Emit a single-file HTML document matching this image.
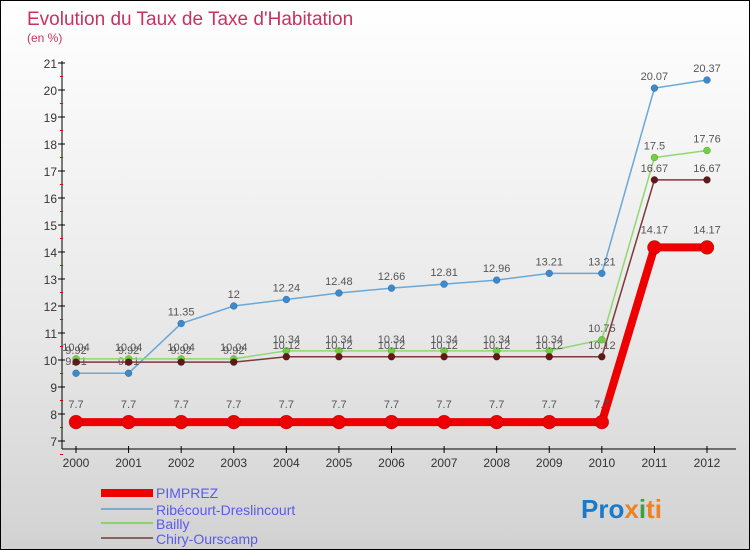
<!DOCTYPE html>
<html><head><meta charset="utf-8"><style>
body{margin:0;}
#c{width:750px;height:550px;position:relative;overflow:hidden;background:linear-gradient(#fff 0%,#e8e8e8 60%,#d2d2d2 100%);box-sizing:border-box;border:1px solid #000;font-family:"Liberation Sans",sans-serif;}
</style></head><body>
<div id="c">
<svg id="s" width="750" height="550" style="position:absolute;left:0;top:0">
<text x="26" y="24" font-size="19" fill="#c8325f">Evolution du Taux de Taxe d'Habitation</text>
<text x="26" y="41" font-size="12" fill="#c8325f">(en %)</text>
<line x1="61" y1="60" x2="61" y2="448" stroke="#000"/>
<line x1="61" y1="448" x2="735" y2="448" stroke="#000"/>
<g id="ax"></g><g id="series"></g>
<g>
<rect x="100" y="488" width="52" height="8" fill="#e00"/>
<text x="155" y="497" font-size="14" fill="#5a5af0">PIMPREZ</text>
<line x1="100" y1="508" x2="152" y2="508" stroke="#7aaad0" stroke-width="2"/>
<text x="155" y="514" font-size="14" fill="#5a5af0">Ribécourt-Dreslincourt</text>
<line x1="100" y1="522" x2="152" y2="522" stroke="#90d070" stroke-width="2"/>
<text x="155" y="528" font-size="14" fill="#5a5af0">Bailly</text>
<line x1="100" y1="537" x2="152" y2="537" stroke="#8a6060" stroke-width="2"/>
<text x="155" y="543" font-size="14" fill="#5a5af0">Chiry-Ourscamp</text>
</g>
<text x="580" y="517" font-size="26" font-weight="bold" fill="#1a7ac8">Pro<tspan fill="#f08020">x</tspan><tspan fill="#3aa040">i</tspan><tspan fill="#f08020">ti</tspan></text>
</svg>
</div>
<script>
const years=[2000,2001,2002,2003,2004,2005,2006,2007,2008,2009,2010,2011,2012];
const pimprez=[7.7,7.7,7.7,7.7,7.7,7.7,7.7,7.7,7.7,7.7,7.7,14.17,14.17];
const ribecourt=[9.51,9.51,11.35,12,12.24,12.48,12.66,12.81,12.96,13.21,13.21,20.07,20.37];
const bailly=[10.04,10.04,10.04,10.04,10.34,10.34,10.34,10.34,10.34,10.34,10.75,17.5,17.76];
const chiry=[9.92,9.92,9.92,9.92,10.12,10.12,10.12,10.12,10.12,10.12,10.12,16.67,16.67];
const yTicks=[7,8,9,10,11,12,13,14,15,16,17,18,19,20,21];
const NS='http://www.w3.org/2000/svg';
const X=i=>75+i*(706-75)/(years.length-1);
const Y=v=>440-(v-7)*27;
function mk(t,a,p){const e=document.createElementNS(NS,t);for(const k in a)e.setAttribute(k,a[k]);p.appendChild(e);return e;}
const ax=document.getElementById('ax');
yTicks.forEach(v=>{
 const l=mk('line',{x1:57,x2:64,y1:Y(v),y2:Y(v),stroke:'#000'},ax);
 
 
 const m=mk('line',{x1:59,x2:62,y1:Y(v)+13.5,y2:Y(v)+13.5,stroke:'#e00'},ax);
 
 
 const t=mk('text',{x:56,y:Y(v)+5,'font-size':12,'text-anchor':'end',fill:'#333'},ax);
 t.textContent=v;
 
 
});
years.forEach((y,i)=>{
 const l=mk('line',{x1:X(i),x2:X(i),y1:445,y2:452,stroke:'#000'},ax);
 
 
 const t=mk('text',{x:X(i),y:466,'font-size':12,'text-anchor':'middle',fill:'#333'},ax);
 t.textContent=y;
 
 
});
const sg=document.getElementById('series');
function series(name,data,color,w,r,dot,dy){
 const g=mk('g',{},sg);
 
 
 const pl=mk('polyline',{points:data.map((v,i)=>X(i)+','+Y(v)).join(' '),fill:'none',stroke:color,'stroke-width':w},g);
 
 
 data.forEach((v,i)=>{
  const c=mk('circle',{cx:X(i),cy:Y(v),r:r,fill:dot,stroke:'rgba(0,0,0,0.3)','stroke-width':0.5},g);
  
  
  const t=mk('text',{x:X(i),y:Y(v)-dy,'font-size':11,'text-anchor':'middle',fill:'#555'},g);
  t.textContent=v;
  
  
 });
}
series('ribecourt',ribecourt,'#6aa8d8',1.5,3.5,'#3a8ad0',8);
series('bailly',bailly,'#90d870',1.5,3.5,'#70d040',8);
series('chiry',chiry,'#803838',1.5,3.5,'#601818',8);
series('pimprez',pimprez,'#ee0000',8,7,'#ee0000',14);
</script>
</body></html>
